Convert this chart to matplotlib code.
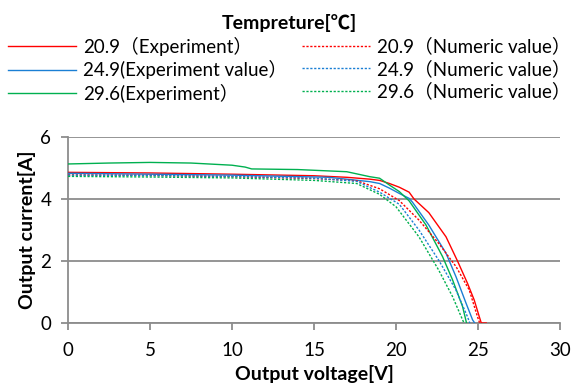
import matplotlib
matplotlib.use('Agg')
import matplotlib.pyplot as plt
from matplotlib.lines import Line2D

plt.rcParams['font.family'] = ['Lato', 'Noto Sans CJK JP', 'DejaVu Sans']

# I-V curves (V in volts, I in amps)
v_exp_209 = [0, 5, 10, 15, 17, 18.4, 19.0, 19.6, 20.2, 20.8, 21.1, 22.0, 23.05, 23.75, 24.36, 24.77, 25.08, 25.2, 25.5]
i_exp_209 = [4.86, 4.84, 4.80, 4.75, 4.70, 4.64, 4.60, 4.50, 4.38, 4.22, 4.00, 3.56, 2.78, 2.00, 1.28, 0.74, 0.20, 0.0, 0.0]

v_num_209 = [0, 5, 10, 15, 17.6, 19.0, 20.2, 21.4, 22.6, 23.66, 24.47, 24.97, 25.1]
i_num_209 = [4.78, 4.76, 4.72, 4.66, 4.59, 4.33, 3.95, 3.32, 2.57, 1.82, 1.06, 0.20, 0.0]

v_exp_249 = [0, 5, 10, 15.9, 18.4, 19.0, 19.6, 20.2, 20.8, 21.0, 22.0, 23.05, 23.66, 24.27, 24.67, 24.8]
i_exp_249 = [4.83, 4.80, 4.77, 4.70, 4.56, 4.50, 4.35, 4.18, 4.02, 3.90, 3.16, 2.25, 1.49, 0.64, 0.10, 0.0]

v_num_249 = [0, 5, 10, 15, 17.6, 19.0, 20.2, 21.4, 22.6, 23.66, 24.36, 24.5]
i_num_249 = [4.77, 4.76, 4.73, 4.67, 4.57, 4.22, 3.83, 3.00, 2.03, 1.06, 0.20, 0.0]

v_exp_296 = [0, 2.5, 5, 7.5, 10, 10.8, 11.2, 14, 17, 18.4, 19.0, 19.6, 20.2, 20.8, 21.83, 22.84, 23.45, 24.06, 24.3]
i_exp_296 = [5.13, 5.16, 5.18, 5.16, 5.09, 5.03, 4.97, 4.95, 4.88, 4.72, 4.67, 4.45, 4.24, 3.94, 3.16, 2.14, 1.39, 0.53, 0.0]

v_num_296 = [0, 5, 10, 15, 17.6, 19.0, 20.0, 21.4, 22.6, 23.45, 24.06, 24.15]
i_num_296 = [4.73, 4.71, 4.68, 4.60, 4.50, 4.15, 3.75, 2.78, 1.71, 0.85, 0.10, 0.0]

labels_exp = ['20.9（Experiment）', '24.9(Experiment value）', '29.6(Experiment）']
labels_num = ['20.9（Numeric value）', '24.9（Numeric value）', '29.6（Numeric value）']
colors = ['#ff0000', '#1a7fd4', '#00b050']

fig = plt.figure(figsize=(5.79, 3.88), dpi=100)
ax = fig.add_axes([68 / 579, 1 - 323 / 388, (560 - 68) / 579, (323 - 137) / 388])

dot = (0, (1.6, 1.2))
exp_sets = [(v_exp_209, i_exp_209), (v_exp_249, i_exp_249), (v_exp_296, i_exp_296)]
num_sets = [(v_num_209, i_num_209), (v_num_249, i_num_249), (v_num_296, i_num_296)]
for (v, i), c in zip(exp_sets, colors):
    ax.plot(v, i, color=c, lw=1.0, zorder=3)
for (v, i), c in zip(num_sets, colors):
    ax.plot(v, i, color=c, lw=1.0, ls=dot, zorder=3)

ax.set_xlim(0, 30)
ax.set_ylim(0, 6)
ax.set_xticks(range(0, 31, 5))
ax.set_yticks([0, 2, 4, 6])
ax.grid(axis='y', color='#8c8c8c', lw=1.3, zorder=0)
for s in ['top', 'right']:
    ax.spines[s].set_visible(False)
for s in ['left', 'bottom']:
    ax.spines[s].set_color('#8c8c8c')
    ax.spines[s].set_linewidth(1.3)
ax.tick_params(axis='both', colors='#8c8c8c', labelcolor='black', labelsize=13.5,
               length=5, width=1.3, direction='out')
ax.tick_params(axis='y', pad=7)
ax.tick_params(axis='x', pad=9)
ax.set_xlabel('Output voltage[V]', fontsize=14, fontweight='bold', labelpad=4)
ax.set_ylabel('Output current[A]', fontsize=14, fontweight='bold', labelpad=3)

handles = [Line2D([], [], color=c, lw=1.0) for c in colors] + \
          [Line2D([], [], color=c, lw=1.0, ls=dot) for c in colors]
leg = fig.legend(handles, labels_exp + labels_num, ncol=2, loc='upper center',
                 bbox_to_anchor=(0.5, 1.0), frameon=False, fontsize=13.5,
                 title='Tempreture[℃]', title_fontproperties={'weight': 'bold', 'size': 14,
                                                             'family': ['Lato', 'Noto Sans CJK JP']},
                 handlelength=3.6, handletextpad=0.4, columnspacing=0.8,
                 labelspacing=0.24, borderpad=0.25)

fig.savefig('out.png', dpi=100)
